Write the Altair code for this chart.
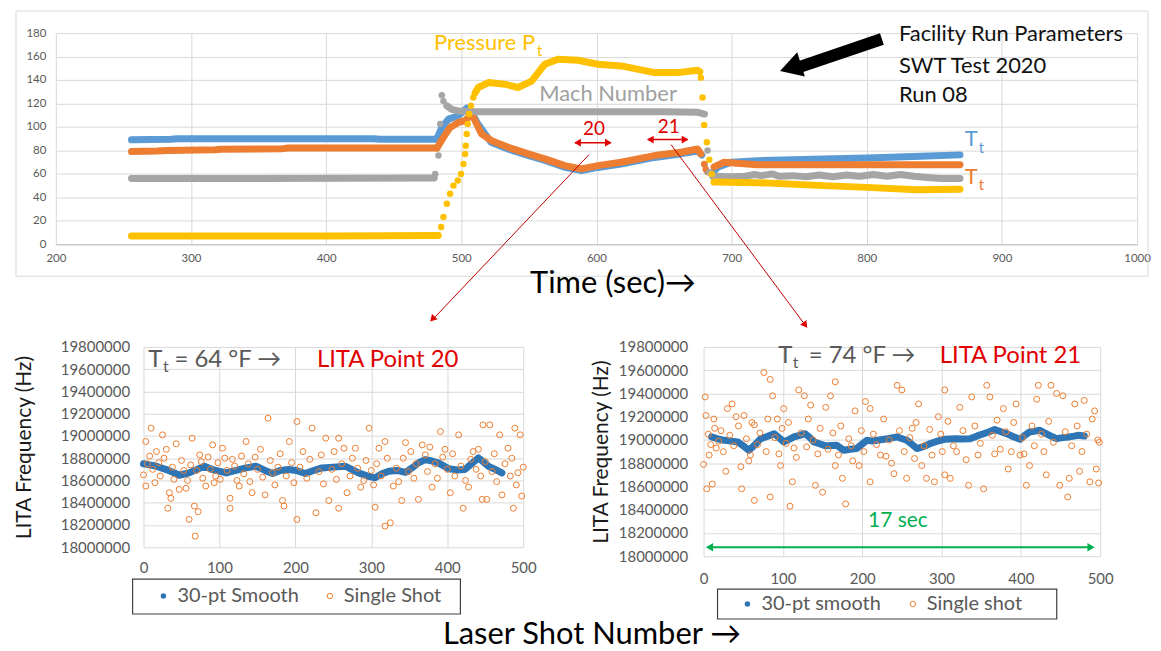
import altair as alt
import pandas as pd

FONT = "Lato"
BLUE = "#5b9bd5"
ORANGE = "#ed7d31"
GRAY = "#a5a5a5"
YELLOW = "#ffc000"
SMOOTH_BLUE = "#2e75b6"
RED = "#e00000"
GREEN = "#00b050"
TXT = "#595959"

# ---------------- Top chart data (time in s, value) ----------------
# seg: a/b/c = continuous runs (drawn as thick band), d = separated markers
blue_time = [256, 285, 290, 435, 440, 482,
             482, 485.6, 490.5, 497.9, 504, 508, 512, 522, 535, 550, 562, 577, 589, 601, 618, 643, 662, 675, 678,
             680, 682,
             686, 690, 700, 719, 760, 800, 840, 869]
blue_value = [89, 89.5, 90, 90, 89.5, 89.5,
              90, 99.6, 106.7, 109.5, 116, 112, 103, 87, 81, 75.5, 71.5, 65.5, 62.8, 65.5, 68.4, 74, 77, 79.5, 76,
              68, 62,
              61, 66, 70, 71.3, 72.5, 73.5, 75, 76.2]
blue_seg = ["a"] * 6 + ["b"] * 19 + ["d"] * 2 + ["c"] * 8

orange_time = [256, 275, 282, 318, 322, 368, 372, 482,
               482, 486.8, 491.7, 497.9, 502.8, 507.7, 510.2, 515, 522.4, 534.7, 549.5, 561.8, 576.5, 588.8,
               601.1, 618.3, 642.9, 662.5, 674.8, 677.3,
               679.7, 680.9, 682.7,
               687, 694.5, 719, 800, 869]
orange_value = [79, 79.5, 80, 80.5, 81, 81.5, 82, 82,
                82, 91.1, 99.6, 103.8, 105.3, 111, 105.3, 94, 88.3, 82.6, 77, 72.8, 67, 64.3,
                67, 69.9, 75.6, 78.4, 81.2, 77,
                68.5, 64, 61.4,
                66, 69.9, 67.7, 67.7, 67.7]
orange_seg = ["a"] * 8 + ["b"] * 20 + ["d"] * 3 + ["c"] * 5

mach_time = [256, 350, 480,
             480.7, 483.1, 484.4, 485.6, 486.8, 489.3,
             489.3, 493, 498, 510, 600, 650, 675, 680,
             682.2, 683.4,
             686, 700, 710, 717, 722, 730, 735, 745, 755, 765, 775, 785, 795, 805, 815, 825, 835, 845, 855, 869]
mach_value = [56, 56, 56.5,
              60, 75.6, 102.5, 127, 122, 118,
              118, 115, 113.5, 113, 113, 113, 112.5, 111,
              80, 61.4,
              58, 57.5, 58, 59.5, 58.5, 60, 58, 58.5, 57.5, 59, 57.5, 59, 58, 59.5, 58, 59.5, 58, 57, 56, 56]
mach_seg = ["a"] * 3 + ["d"] * 6 + ["b"] * 8 + ["d"] * 2 + ["c"] * 20

press_time = [256, 400, 483,
              485.1, 486.8, 489.3, 491.7, 494.2, 497.4, 499.8, 501.6, 502.8, 503.3, 504, 504.7, 505.8, 507.2, 508.9,
              510.2, 512.6, 520, 532.3, 542, 552, 561.8, 571.6, 586.4, 601.1, 618.3, 642.9, 660.1, 674.8, 676.5,
              677.3, 678.5, 679.7, 681.7, 683.5, 685.3,
              687, 720, 768, 800, 837, 869]
press_value = [7, 7, 7.5,
               14.7, 23.2, 34.5, 43, 50, 54.3, 60, 68.5, 77, 84, 94, 102.5, 111, 118, 125,
               129, 133.6, 137.8, 136.4, 133.6, 139, 153.4, 157.6, 156.8, 153.4, 152, 146.3, 146.3, 148.3, 147,
               142, 125, 101.6, 86.9, 72, 60,
               53, 52.5, 50, 48.5, 46.5, 47]
press_seg = ["a"] * 3 + ["d"] * 15 + ["b"] * 15 + ["d"] * 6 + ["c"] * 6

facility_lines = ["Facility Run Parameters", "SWT Test 2020", "Run 08"]

# ---------------- Bottom-left: LITA point 20 ----------------
p20_smooth_shot = [0, 8, 17, 30, 40, 47, 60, 73, 80, 91, 109, 122, 135, 148, 160, 170, 180, 191, 201, 213, 224,
                   235, 250, 266, 283, 295, 305, 314, 323, 334, 345, 355, 362, 371, 380, 388, 402, 413, 423, 432,
                   441, 447, 454, 463, 472]
p20_smooth_hz = [18750000, 18740000, 18728000, 18698000, 18670000, 18647000, 18668000, 18707000, 18728000,
                 18698000, 18668000, 18690000, 18713000, 18728000, 18690000, 18663000, 18690000, 18698000,
                 18690000, 18663000, 18690000, 18713000, 18720000, 18728000, 18668000, 18640000, 18624000,
                 18660000, 18683000, 18690000, 18673000, 18720000, 18758000, 18788000, 18775000, 18758000,
                 18705000, 18695000, 18698000, 18750000, 18803000, 18770000, 18728000, 18700000, 18668000]
p20_shot = [0, 3, 10, 3, 17, 25, 30, 34, 32, 36, 43, 47, 56, 64, 60, 67, 68, 72, 76, 82, 91, 95, 104, 114, 114,
            117, 126, 135, 143, 154, 160, 164, 170, 183, 185, 192, 202, 202, 222, 227, 240, 244, 257, 257, 268,
            279, 286, 297, 305, 310, 318, 325, 318, 329, 340, 345, 362, 367, 380, 391, 397, 404, 415, 421, 428,
            434, 447, 456, 446, 452, 469, 472, 480, 487, 489, 496, 498, 493,
            5, 8, 12, 15, 20, 22, 27, 38, 40, 50, 53, 58, 62, 70, 74, 78, 85, 88, 93, 98, 101, 107, 110, 120,
            123, 129, 132, 138, 140, 147, 150, 157, 167, 173, 177, 180, 188, 195, 198, 206, 210, 215, 219, 231,
            234, 237, 248, 251, 254, 261, 264, 272, 275, 282, 290, 293, 300, 303, 307, 313, 321, 333, 336, 342,
            349, 352, 356, 359, 371, 374, 377, 384, 387, 394, 400, 407, 410, 418, 424, 431, 438, 441, 444, 450,
            459, 462, 465, 476, 483, 485, 491, 500]
p20_hz = [18650000, 18950000, 19070000, 18550000, 18860000, 19010000, 18880000, 18490000, 18350000, 18440000,
          18930000, 18520000, 18530000, 18980000, 18250000, 18370000, 18100000, 18320000, 18770000, 18550000,
          18920000, 18640000, 18890000, 18440000, 18350000, 18790000, 18550000, 18950000, 18490000, 18880000,
          18470000, 19160000, 18670000, 18420000, 18370000, 18950000, 19130000, 18250000, 19070000, 18310000,
          18980000, 18420000, 18980000, 18350000, 18490000, 18890000, 18540000, 19070000, 18360000, 18890000,
          18190000, 18220000, 18950000, 18550000, 18420000, 18940000, 18430000, 18920000, 18540000, 19040000,
          18880000, 18490000, 19010000, 18350000, 18540000, 18860000, 19100000, 19100000, 18430000, 18430000,
          19010000, 18470000, 18890000, 18350000, 19070000, 19010000, 18460000, 18670000,
          18750000, 18820000, 18700000, 18580000, 18760000, 18640000, 18800000, 18720000, 18610000, 18780000,
          18690000, 18600000, 18740000, 18690000, 18830000, 18620000, 18810000, 18700000, 18580000, 18760000,
          18610000, 18800000, 18690000, 18730000, 18600000, 18820000, 18660000, 18750000, 18590000, 18810000,
          18700000, 18630000, 18780000, 18560000, 18720000, 18840000, 18640000, 18760000, 18580000, 18720000,
          18860000, 18620000, 18790000, 18680000, 18830000, 18570000, 18700000, 18860000, 18610000, 18750000,
          18890000, 18640000, 18800000, 18710000, 18600000, 18780000, 18690000, 18560000, 18750000, 18640000,
          18800000, 18710000, 18590000, 18800000, 18680000, 18860000, 18620000, 18750000, 18830000, 18680000,
          18900000, 18750000, 18620000, 18810000, 18700000, 18840000, 18640000, 18730000, 18600000, 18790000,
          18700000, 18880000, 18640000, 18770000, 18680000, 18840000, 18590000, 18750000, 18640000, 18800000,
          18560000, 18720000]

# ---------------- Bottom-right: LITA point 21 ----------------
p21_smooth_shot = [10, 18, 26, 35, 43, 50, 57, 65, 72, 80, 89, 95, 101, 108, 114, 121, 128, 134, 139, 147, 154,
                   161, 168, 173, 177, 185, 193, 198, 206, 213, 219, 232, 244, 256, 263, 269, 278, 286, 295, 304,
                   317, 326, 336, 345, 353, 360, 367, 375, 382, 390, 399, 405, 411, 418, 424, 430, 436, 445, 453,
                   461, 467, 472, 480]
p21_smooth_hz = [19026000, 19010000, 18997000, 18990000, 18983000, 18950000, 18911000, 18960000, 19011000,
                 19030000, 19054000, 19020000, 18983000, 19005000, 19026000, 19040000, 19054000, 19020000,
                 18983000, 18965000, 18949000, 18952000, 18954000, 18930000, 18911000, 18920000, 18926000,
                 18954000, 18997000, 18990000, 18997000, 19010000, 19026000, 18997000, 18960000, 18926000,
                 18945000, 18969000, 18990000, 19006000, 19011000, 19008000, 19011000, 19035000, 19054000,
                 19070000, 19089000, 19070000, 19054000, 19030000, 19006000, 19040000, 19069000, 19076000,
                 19083000, 19060000, 19040000, 19011000, 19020000, 19026000, 19033000, 19040000, 19034000]
p21_shot = [0, 2, 4, 11, 3, 13, 7, 16, 28, 30, 36, 41, 47, 48, 51, 59, 64, 64, 76, 84, 87, 84, 93, 97, 101, 109,
            112, 114, 120, 127, 135, 141, 150, 154, 160, 166, 166, 175, 179, 183, 191, 196, 204, 210, 210, 223,
            240, 244, 250, 256, 263, 271, 275, 281, 291, 296, 304, 304, 311, 319, 323, 334, 338, 346, 353, 357,
            361, 367, 378, 384, 394, 399, 407, 411, 422, 420, 432, 438, 445, 449, 453, 459, 461, 468, 474, 480,
            487, 493, 495, 498, 499,
            6, 9, 14, 19, 22, 25, 33, 38, 44, 54, 57, 61, 68, 71, 79, 81, 90, 95, 99, 104, 107, 117, 123, 130,
            132, 138, 144, 147, 157, 163, 170, 173, 186, 188, 199, 202, 214, 218, 227, 230, 234, 237, 247, 253,
            260, 266, 268, 278, 285, 288, 299, 301, 308, 315, 327, 331, 342, 349, 364, 370, 374, 381, 388, 391,
            402, 404, 414, 417, 426, 429, 435, 441, 456, 464, 471, 477, 483, 490, 497]
p21_hz = [18790000, 19370000, 18580000, 18620000, 19210000, 19180000, 18870000, 18930000, 18730000, 19270000,
          19310000, 19200000, 18770000, 18580000, 19210000, 18870000, 18480000, 19130000, 19580000, 19520000,
          19380000, 18510000, 19180000, 18780000, 19270000, 18430000, 18640000, 18930000, 19430000, 19380000,
          19300000, 18610000, 18550000, 19280000, 19380000, 19500000, 18780000, 18670000, 18450000, 19010000,
          19250000, 18780000, 19330000, 19270000, 18640000, 18870000, 18710000, 19470000, 19430000, 18670000,
          19100000, 19310000, 18780000, 18670000, 18640000, 19200000, 19430000, 18700000, 18670000, 18900000,
          19280000, 18610000, 19370000, 18870000, 18580000, 19470000, 19370000, 18880000, 19270000, 18750000,
          19310000, 18870000, 18610000, 18780000, 19470000, 19350000, 18700000, 19470000, 19400000, 18610000,
          19380000, 18510000, 18670000, 19310000, 18730000, 19340000, 18640000, 19250000, 18750000, 18630000,
          18980000,
          19050000, 18960000, 19100000, 18990000, 19080000, 18900000, 19040000, 18950000, 19120000, 19010000,
          18820000, 19150000, 18960000, 19060000, 18900000, 19180000, 19020000, 18880000, 19100000, 18970000,
          19150000, 18850000, 19060000, 18940000, 19180000, 19000000, 18880000, 19100000, 18920000, 19060000,
          18870000, 19120000, 18950000, 18820000, 19080000, 18900000, 19050000, 18960000, 19180000, 18860000,
          19000000, 18800000, 19080000, 18900000, 19020000, 18840000, 19150000, 18950000, 19090000, 18870000,
          19050000, 18900000, 19160000, 18950000, 19080000, 18830000, 19120000, 18970000, 19040000, 19170000,
          18920000, 19070000, 18900000, 19150000, 19020000, 18880000, 19120000, 18950000, 19050000, 18900000,
          19160000, 18980000, 19070000, 18950000, 19120000, 18900000, 19050000, 19180000, 19000000]

# =====================================================================
xs_top = alt.Scale(domain=[200, 1000], nice=False, zero=False, padding=0)
ys_top = alt.Scale(domain=[0, 180], nice=False, zero=False, padding=0)
xax_top = alt.Axis(values=list(range(200, 1001, 100)), format="d", grid=True, gridColor="#d9d9d9",
                   domainColor="#bfbfbf", ticks=False, tickSize=0, labelFontSize=11.5, labelColor=TXT,
                   labelPadding=8, labelFlush=False, title=None)
yax_top = alt.Axis(values=list(range(0, 181, 20)), grid=True, gridColor="#d9d9d9", domain=False,
                   ticks=False, tickSize=0, labelFontSize=11.5, labelColor=TXT, labelPadding=10,
                   labelFlush=False, title=None)


def txy(xf="x", yf="y"):
    return dict(x=alt.X(f"{xf}:Q", scale=xs_top, axis=xax_top),
                y=alt.Y(f"{yf}:Q", scale=ys_top, axis=yax_top))


def series_layers(times, values, segs, color):
    df = pd.DataFrame({"t": times, "v": values, "seg": segs})
    base = alt.Chart(df)
    line = base.transform_filter("datum.seg != 'd'").mark_line(
        color=color, strokeWidth=7, strokeCap="round", strokeJoin="round").encode(
        detail="seg:N", **txy("t", "v"))
    dots = base.transform_filter("datum.seg == 'd'").mark_circle(
        color=color, size=42, opacity=1).encode(**txy("t", "v"))
    return [line, dots]


def ttext(rows, **kw):
    return alt.Chart(pd.DataFrame(rows)).mark_text(font=FONT, baseline="middle", clip=False, **kw).encode(
        text="text:N", **txy())


top_layers = []
top_layers += series_layers(blue_time, blue_value, blue_seg, BLUE)
top_layers += series_layers(orange_time, orange_value, orange_seg, ORANGE)
top_layers += series_layers(mach_time, mach_value, mach_seg, GRAY)
top_layers += series_layers(press_time, press_value, press_seg, YELLOW)
top_layers.append(
    alt.Chart(pd.DataFrame({"x": [170.5], "x2": [1008.1], "y": [198.7], "y2": [-27.2]})).mark_rect(
        fill=None, stroke="#d9d9d9", strokeWidth=1, clip=False).encode(x2="x2:Q", y2="y2:Q", **txy()))

# annotations
top_layers.append(ttext([{"text": "Pressure P", "x": 554.6, "y": 171.5}], align="right", fontSize=22, color=YELLOW))
top_layers.append(ttext([{"text": "t", "x": 556.1, "y": 164.7}], align="left", fontSize=15, color=YELLOW))
top_layers.append(ttext([{"text": "Mach Number", "x": 557.6, "y": 128.2}], align="left", fontSize=22, color="#a0a0a0"))
top_layers.append(ttext([{"text": "20", "x": 598.2, "y": 98.5}, {"text": "21", "x": 653.5, "y": 100.2}],
                        align="center", fontSize=19, color=RED))
top_layers.append(ttext([{"text": "T", "x": 882.0, "y": 90}], align="right", fontSize=22, color=BLUE))
top_layers.append(ttext([{"text": "t", "x": 882.8, "y": 82.4}], align="left", fontSize=15, color=BLUE))
top_layers.append(ttext([{"text": "T", "x": 882.0, "y": 56.9}], align="right", fontSize=22, color=ORANGE))
top_layers.append(ttext([{"text": "t", "x": 882.8, "y": 50.1}], align="left", fontSize=15, color=ORANGE))
top_layers.append(ttext([{"text": facility_lines[i], "x": 823.8, "y": yy}
                         for i, yy in enumerate([179.2, 152.0, 127.4])],
                        align="left", fontSize=22, color="#111111"))
top_layers.append(ttext([{"text": "Time (sec)\u2192", "x": 612.2, "y": -34.0}], align="center", fontSize=31,
                        color="#000000"))

# small red double arrows for points 20 and 21
rules_df = pd.DataFrame({"x": [584.1, 638.0], "x2": [610.7, 667.5], "y": [86.6, 89.2]})
top_layers.append(alt.Chart(rules_df).mark_rule(color=RED, strokeWidth=1.5).encode(x2="x2:Q", **txy()))
heads_df = pd.DataFrame({"x": [586.0, 608.8, 639.9, 665.6], "y": [86.6, 86.6, 89.2, 89.2],
                         "a": [270, 90, 270, 90]})
top_layers.append(alt.Chart(heads_df).mark_point(shape="triangle-up", filled=True, size=60, color=RED,
                                                 opacity=1).encode(
    angle=alt.Angle("a:Q", scale=None), **txy()))

# long red connector arrows
conn_df = pd.DataFrame({"x": [594.5, 655.2], "y": [76.4, 84.9], "x2": [478.5, 755.2], "y2": [-64.5, -70.0]})
top_layers.append(alt.Chart(conn_df).mark_rule(color="#c00000", strokeWidth=1, clip=False).encode(
    x2="x2:Q", y2="y2:Q", **txy()))
conn_heads = pd.DataFrame({"x": [478.7, 754.5], "y": [-63.7, -68.8], "a": [223.5, 143.4]})
top_layers.append(alt.Chart(conn_heads).mark_point(shape="triangle-up", filled=True, size=60, color=RED,
                                                   opacity=1, clip=False).encode(
    angle=alt.Angle("a:Q", scale=None), **txy()))

# big black arrow
top_layers.append(alt.Chart(pd.DataFrame({"x": [811.2], "y": [174.9], "x2": [750.0], "y2": [151.0]})).mark_rule(
    color="#000000", strokeWidth=12).encode(x2="x2:Q", y2="y2:Q", **txy()))
top_layers.append(alt.Chart(pd.DataFrame({"x": [743.6], "y": [150.4], "a": [252.6]})).mark_point(
    shape="triangle-up", filled=True, size=650, color="#000000", opacity=1).encode(
    angle=alt.Angle("a:Q", scale=None), **txy()))

top = alt.layer(*top_layers).properties(width=1085, height=212)

# =====================================================================
xs_b = alt.Scale(domain=[0, 500], nice=False, zero=False, padding=0)
ys_b = alt.Scale(domain=[18000000, 19800000], nice=False, zero=False, padding=0)


def lita_panel(s_shot, s_hz, shot, hz, w, h, lab_pad_y, title_pad, lab_pad_x, temp_txt, point_txt,
               t_pos, legend, legend_labels, extra_fn):
    xax = alt.Axis(values=list(range(0, 501, 100)), grid=True, gridColor="#d9d9d9", domain=False, ticks=False,
                   tickSize=0, labelFontSize=15, labelColor=TXT, labelPadding=lab_pad_x, labelFlush=False,
                   title=None)
    yax = alt.Axis(values=list(range(18000000, 19800001, 200000)), format="d", grid=True, gridColor="#d9d9d9",
                   domain=False, ticks=False, tickSize=0, labelFontSize=15, labelColor=TXT,
                   labelPadding=lab_pad_y, labelFlush=False, title="LITA Frequency (Hz)", titleFontSize=21,
                   titleFont=FONT, titleFontWeight="normal", titleColor="#1a1a1a", titlePadding=title_pad)

    def bxy(xf="x", yf="y"):
        return dict(x=alt.X(f"{xf}:Q", scale=xs_b, axis=xax), y=alt.Y(f"{yf}:Q", scale=ys_b, axis=yax))

    def btext(rows, **kw):
        return alt.Chart(pd.DataFrame(rows)).mark_text(font=FONT, baseline="middle", clip=False, **kw).encode(
            text="text:N", **bxy())

    sm = pd.DataFrame({"x": s_shot, "y": s_hz})
    ss = pd.DataFrame({"x": shot, "y": hz})
    smooth = alt.Chart(sm).mark_line(color=SMOOTH_BLUE, strokeWidth=7, strokeCap="round",
                                     strokeJoin="round").encode(**bxy())
    single = alt.Chart(ss).mark_point(filled=False, color=ORANGE, size=36, strokeWidth=1, opacity=1).encode(
        **bxy())
    tx, ty, tsx, tsy, eqx, ptx = t_pos
    layers = [smooth, single,
              btext([{"text": "T", "x": tx, "y": ty}], align="right", fontSize=24, color=TXT),
              btext([{"text": "t", "x": tsx, "y": tsy}], align="left", fontSize=16, color=TXT),
              btext([{"text": temp_txt, "x": eqx, "y": ty}], align="left", fontSize=24, color=TXT),
              btext([{"text": point_txt, "x": ptx, "y": ty}], align="right", fontSize=24, color=RED)]
    bx, bx2, by, by2, dx, ly, tx1, ox, tx2 = legend
    layers.append(alt.Chart(pd.DataFrame({"x": [bx], "x2": [bx2], "y": [by], "y2": [by2]})).mark_rect(
        fill="white", stroke="#404040", strokeWidth=1.2, clip=False).encode(x2="x2:Q", y2="y2:Q", **bxy()))
    layers.append(alt.Chart(pd.DataFrame({"x": [dx], "y": [ly]})).mark_circle(
        color=SMOOTH_BLUE, size=30, opacity=1, clip=False).encode(**bxy()))
    layers.append(alt.Chart(pd.DataFrame({"x": [ox], "y": [ly]})).mark_point(
        filled=False, color=ORANGE, size=30, strokeWidth=1, opacity=1, clip=False).encode(**bxy()))
    layers.append(btext([{"text": legend_labels[0], "x": tx1, "y": ly},
                         {"text": legend_labels[1], "x": tx2, "y": ly}],
                        align="left", fontSize=20, color=TXT))
    layers += extra_fn(bxy, btext)
    return alt.layer(*layers).properties(width=w, height=h)


def left_extra(bxy, btext):
    return [btext([{"text": "Laser Shot Number \u2192", "x": 590.6, "y": 17212000}], align="center",
                  fontSize=31, color="#000000")]


def right_extra(bxy, btext):
    green_rule = alt.Chart(pd.DataFrame({"x": [6], "x2": [490], "y": [18077000]})).mark_rule(
        color=GREEN, strokeWidth=2).encode(x2="x2:Q", **bxy())
    green_heads = alt.Chart(pd.DataFrame({"x": [7.5, 488.5], "y": [18077000, 18077000],
                                          "a": [270, 90]})).mark_point(
        shape="triangle-up", filled=True, size=70, color=GREEN, opacity=1).encode(
        angle=alt.Angle("a:Q", scale=None), **bxy())
    return [green_rule, green_heads,
            btext([{"text": "17 sec", "x": 245, "y": 18300000}], align="center", fontSize=21, color=GREEN)]


left = lita_panel(
    p20_smooth_shot, p20_smooth_hz, p20_shot, p20_hz, 381, 201, 14, 26, 13,
    "= 64 \u00b0F  \u2192", "LITA Point 20",
    (24.9, 19683600, 25.6, 19620900, 40.7, 414.7),
    (-14.4, 417.3, 17713500, 17400000, 26.2, 17561250, 44.6, 245.4, 263.8),
    ["30-pt Smooth", "Single Shot"], left_extra)

right = lita_panel(
    p21_smooth_shot, p21_smooth_hz, p21_shot, p21_hz, 398, 210, 16, 7, 15,
    "= 74 \u00b0F  \u2192", "LITA Point 21",
    (111.8, 19722857, 112.4, 19662857, 132.5, 476.1),
    (17.6, 445.2, 17717143, 17460000, 55.3, 17588571, 72.9, 263.8, 281.4),
    ["30-pt smooth", "Single shot"], right_extra)

spacer = alt.Chart(pd.DataFrame({"x": [0]})).mark_point(opacity=0).encode(
    x=alt.X("x:Q", axis=None)).properties(width=88, height=10)

bottom_pair = alt.hconcat(left, right, spacing=181, bounds="flush")
bottom_row = alt.hconcat(spacer, bottom_pair, spacing=0, bounds="flush")

chart = alt.vconcat(top, bottom_row, spacing=103, bounds="flush").properties(
    padding={"left": 5, "top": 1, "right": 2, "bottom": 2}, background="white"
).configure(font=FONT).configure_view(strokeWidth=0)

chart.save("out.html", embed_options={"renderer": "svg", "actions": False})
